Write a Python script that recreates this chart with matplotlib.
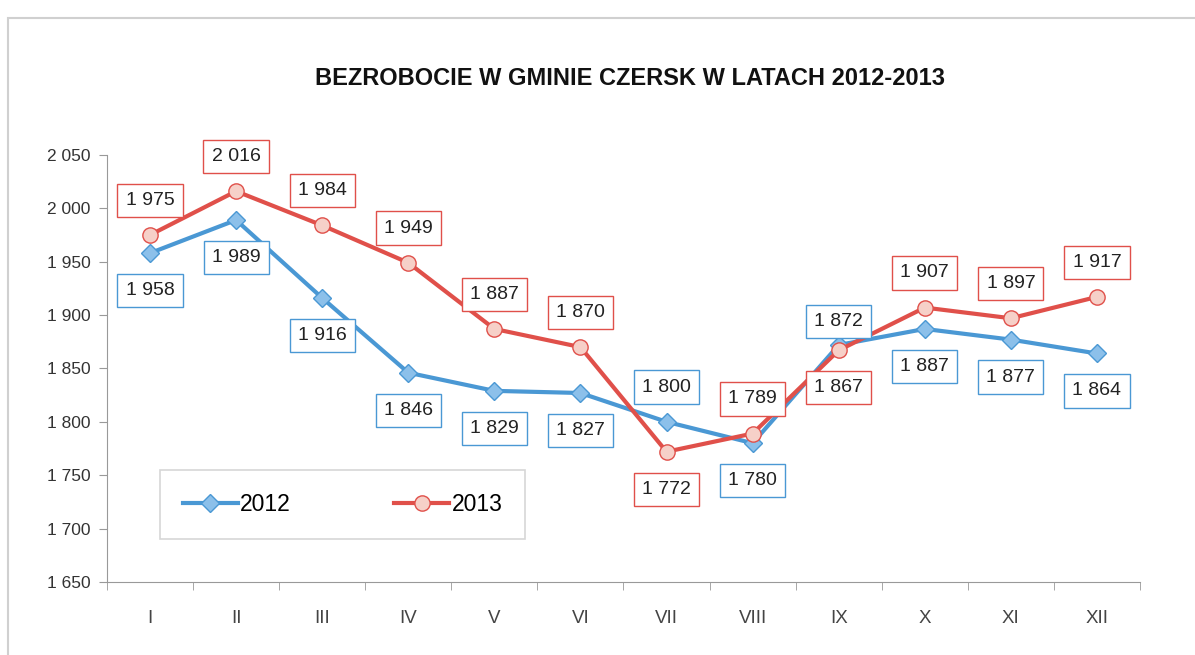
import matplotlib.pyplot as plt
from matplotlib.patches import Rectangle

# --- Dane ---
MONTHS = ['I', 'II', 'III', 'IV', 'V', 'VI', 'VII', 'VIII', 'IX', 'X', 'XI', 'XII']
Y2012 = [1958, 1989, 1916, 1846, 1829, 1827, 1800, 1780, 1872, 1887, 1877, 1864]
Y2013 = [1975, 2016, 1984, 1949, 1887, 1870, 1772, 1789, 1867, 1907, 1897, 1917]
YTICKS = [1650, 1700, 1750, 1800, 1850, 1900, 1950, 2000, 2050]

BLUE = '#4a98d4'
RED = '#e0504a'

plt.rcParams['font.family'] = ['Liberation Sans', 'DejaVu Sans']


def fmt(v):
    return f"{v:,}".replace(',', ' ')


def add_labels(ax, x, values, color, flipped, up_default):
    for i, v in enumerate(values):
        up = up_default != (i in flipped)
        off = 25 if up else -27
        if color == BLUE and i == 8:
            off = 17
        ax.annotate(fmt(v), (x[i], v), xytext=(0, off), textcoords='offset points',
                    ha='center', va='center', fontsize=14, color='#222222',
                    bbox=dict(boxstyle='square,pad=0.42', fc='white', ec=color, lw=1.0),
                    zorder=5)


fig = plt.figure(figsize=(11.95, 6.55), dpi=100)
ax = fig.add_axes([0.0895, 0.1115, 0.8645, 0.652])

x = list(range(len(MONTHS)))
ax.plot(x, Y2012, color=BLUE, lw=3, marker='D', markersize=9,
        markerfacecolor='#8cc0ea', markeredgecolor=BLUE, label='2012', zorder=3)
ax.plot(x, Y2013, color=RED, lw=3, marker='o', markersize=11,
        markerfacecolor='#f6d0c8', markeredgecolor=RED, label='2013', zorder=4)

add_labels(ax, x, Y2012, BLUE, {6, 8}, False)
add_labels(ax, x, Y2013, RED, {6, 8}, True)

ax.set_xlim(-0.5, len(MONTHS) - 0.5)
ax.set_ylim(YTICKS[0], YTICKS[-1])
ax.set_yticks(YTICKS)
ax.set_yticklabels([fmt(v) for v in YTICKS], fontsize=12.5, color='#333333')
ax.set_xticks(x)
ax.set_xticklabels(MONTHS, fontsize=13.5, color='#444444')
ax.set_xticks([i - 0.5 for i in range(len(MONTHS) + 1)], minor=True)
ax.tick_params(axis='x', which='major', length=0, pad=20)
ax.tick_params(axis='x', which='minor', length=6, color='#999999', direction='out')
ax.tick_params(axis='y', length=6, color='#999999', pad=6)

for s in ['top', 'right']:
    ax.spines[s].set_visible(False)
ax.spines['left'].set_color('#999999')
ax.spines['bottom'].set_color('#999999')

leg = ax.legend(loc='center', bbox_to_anchor=(0.051, 0.108, 0.354, 0.145), mode='expand',
                ncol=2, fontsize=16.5, handlelength=2.4, handletextpad=0.1,
                columnspacing=2.3, borderpad=1.0, borderaxespad=0, fancybox=False,
                frameon=True)
leg.get_frame().set_edgecolor('#cccccc')
leg.get_frame().set_linewidth(1.2)

fig.text(0.527, 0.88, 'BEZROBOCIE W GMINIE CZERSK W LATACH 2012-2013',
         ha='center', va='center', fontsize=17, fontweight='bold', color='#111111')

fig.patches.append(Rectangle((8 / 1195, -0.1), 1.2, 1 - 18 / 655 + 0.1,
                             transform=fig.transFigure, fill=False,
                             ec='#d0d0d0', lw=1.5))

fig.savefig('out.png', dpi=100, facecolor='white')
